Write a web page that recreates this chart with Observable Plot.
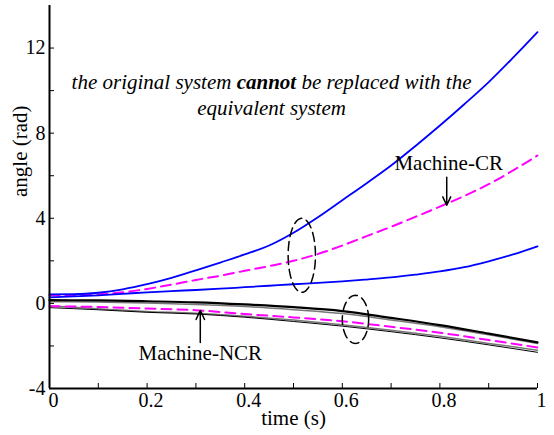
<!DOCTYPE html>
<html><head><meta charset="utf-8">
<script src="https://cdn.jsdelivr.net/npm/d3@7"></script>
<script src="https://cdn.jsdelivr.net/npm/@observablehq/plot@0.6"></script>
<style>
body{margin:0;background:#fff}
svg, svg text, svg tspan { font-family: "Liberation Serif", "Times New Roman", serif !important; }
</style>
</head><body><div id="chart"></div>
<script>
// time samples
const tFine = [0,0.05,0.1,0.15,0.2,0.25,0.3,0.35,0.4,0.45,0.5,0.55,0.6,0.65,0.7,0.75,0.8,0.85,0.9,0.95,1.0];
const tCoarse = [0,0.1,0.2,0.3,0.4,0.5,0.6,0.7,0.8,0.9,1.0];
// critical machines (CR)
const crOrigUpper = [0.42,0.43,0.5,0.66,0.9,1.2,1.55,1.92,2.3,2.72,3.32,4.05,4.85,5.65,6.48,7.4,8.36,9.36,10.4,11.55,12.75];
const crEquiv     = [0.38,0.38,0.42,0.52,0.68,0.88,1.1,1.3,1.53,1.75,2.0,2.32,2.72,3.16,3.6,4.07,4.55,5.05,5.6,6.25,6.95];
const crOrigLower = [0.28,0.33,0.38,0.45,0.52,0.58,0.63,0.69,0.76,0.83,0.9,0.96,1.03,1.12,1.22,1.35,1.5,1.7,1.98,2.3,2.68];
// non-critical machines (NCR)
const ncrOrigA  = [0.15,0.14,0.1,0.05,-0.05,-0.18,-0.36,-0.68,-1.02,-1.42,-1.83];
const ncrGrayA  = [0.08,0.06,0.02,-0.05,-0.15,-0.3,-0.48,-0.78,-1.1,-1.48,-1.88];
const ncrEquiv  = [-0.13,-0.17,-0.24,-0.32,-0.5,-0.66,-0.84,-1.1,-1.38,-1.72,-2.07];
const ncrGrayB  = [-0.12,-0.25,-0.38,-0.46,-0.6,-0.78,-1.0,-1.26,-1.55,-1.88,-2.2];
const ncrOrigB  = [-0.2,-0.3,-0.42,-0.5,-0.65,-0.85,-1.07,-1.33,-1.62,-1.95,-2.3];
// axis ticks
const xTickLabels = [0,0.2,0.4,0.6,0.8,1];
const xTicksAll = [0,0.1,0.2,0.3,0.4,0.5,0.6,0.7,0.8,0.9,1];
const yTickLabels = [-4,0,4,8,12];
const yTicksAll = [-4,-2,0,2,4,6,8,10,12];
// annotations
const ellipses = [{ct:0.517, cv:2.26, rt:0.028, rv:1.74}, {ct:0.627, cv:-0.75, rt:0.027, rv:1.13}];
const arrows = [{x1:0.814, y1:5.93, x2:0.814, y2:4.61}, {x1:0.309, y1:-1.84, x2:0.309, y2:-0.33}];
const labels = [{t:0.818, v:6.59, text:"Machine-CR"}, {t:0.309, v:-2.35, text:"Machine-NCR"}];
const note = [{t:0.455, v:10.4, text:"the original system cannot be replaced with the"}, {t:0.455, v:9.18, text:"equivalent system"}];

const rows = (ts, vs) => ts.map((t,i) => ({t, v: vs[i]}));
const ellipseRows = ellipses.map(e => d3.range(0, 73).map(k => {
  const a = k / 72 * 2 * Math.PI;
  return {t: e.ct + e.rt * Math.cos(a), v: e.cv + e.rv * Math.sin(a)};
}));

const line = (ts, vs, o) => Plot.line(rows(ts, vs), {x:"t", y:"v", curve:"monotone-x", ...o});

const chart = Plot.plot({
  width: 554, height: 435,
  marginLeft: 49, marginRight: 17, marginTop: 5, marginBottom: 47,
  x: {domain:[0,1]},
  y: {domain:[-4,14]},
  style: {fontFamily: "Liberation Serif", fontSize: "20px", background: "white", overflow: "visible", color: "black"},
  marks: [
    Plot.axisX({ticks: xTickLabels, tickSize: 0, tickPadding: 4, dx: 4, tickFormat: d => String(d), label: null, fontSize: 20}),
    Plot.axisY({ticks: yTickLabels, tickSize: 0, tickPadding: 4, tickFormat: d => String(d), label: null, fontSize: 20}),
    Plot.ruleX(xTicksAll, {x: d => d, insetTop: 378, stroke: "black", strokeWidth: 1}),
    Plot.ruleY(yTicksAll, {y: d => d, insetRight: 483, stroke: "black", strokeWidth: 1}),
    line(tCoarse, ncrGrayA, {stroke:"#777", strokeWidth:1.5}),
    line(tCoarse, ncrGrayB, {stroke:"#777", strokeWidth:1.5}),
    line(tCoarse, ncrOrigB, {stroke:"black", strokeWidth:1}),
    line(tCoarse, ncrOrigA, {stroke:"black", strokeWidth:2.2}),
    line(tCoarse, ncrEquiv, {stroke:"#ff00ff", strokeWidth:2, strokeDasharray:"10,6"}),
    line(tFine, crEquiv, {stroke:"#ff00ff", strokeWidth:2, strokeDasharray:"10,6"}),
    line(tFine, crOrigLower, {stroke:"#0000ff", strokeWidth:1.8}),
    line(tFine, crOrigUpper, {stroke:"#0000ff", strokeWidth:1.8}),
    ...ellipseRows.map(r => Plot.line(r, {x:"t", y:"v", stroke:"black", strokeWidth:1.5, strokeDasharray:"9,5"})),
    Plot.arrow(arrows, {x1:"x1", y1:"y1", x2:"x2", y2:"y2", stroke:"black", strokeWidth:1.5, headLength:10, headAngle:50}),
    Plot.text(labels, {x:"t", y:"v", text:"text", fontSize:21, fill:"black"}),
    Plot.text(note, {x:"t", y:"v", text:"text", fontSize:21, fontStyle:"italic", fill:"black"}),
    Plot.ruleX([0], {stroke:"black", strokeWidth:2}),
    Plot.ruleY([-4], {stroke:"black", strokeWidth:2}),
    Plot.text(["time (s)"], {frameAnchor:"bottom", dy:36, fontSize:21, fill:"black"}),
    Plot.text(["angle (rad)"], {frameAnchor:"left", rotate:-90, dx:-29, fontSize:21, fill:"black"})
  ]
});
document.getElementById("chart").appendChild(chart);
// bold "cannot" inside the italic note
chart.querySelectorAll("text").forEach(el => {
  if (el.textContent === note[0].text) {
    const parts = note[0].text.split("cannot");
    el.textContent = "";
    const ns = "http://www.w3.org/2000/svg";
    [[parts[0], null], ["cannot", "bold"], [parts[1], null]].forEach(([s, w]) => {
      const ts = document.createElementNS(ns, "tspan");
      ts.textContent = s;
      if (w) ts.setAttribute("font-weight", w);
      el.appendChild(ts);
    });
  }
});
</script>
</body></html>
